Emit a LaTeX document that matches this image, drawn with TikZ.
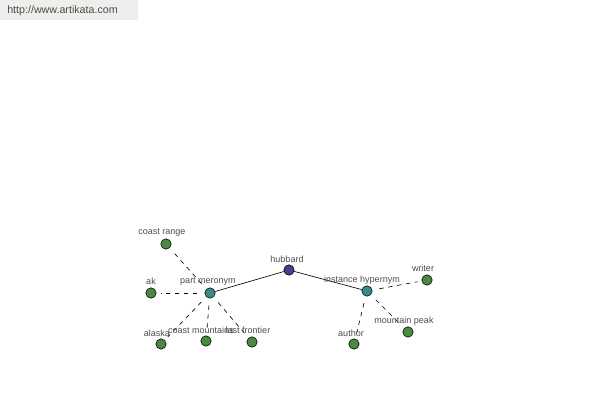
\documentclass[tikz,border=0pt]{standalone}
\usepackage{fontspec}
\setmainfont{Liberation Sans}
\definecolor{leafgreen}{RGB}{74,138,64}
\definecolor{hubteal}{RGB}{58,138,136}
\definecolor{rootblue}{RGB}{64,64,144}
\definecolor{wmgray}{RGB}{238,238,238}
\definecolor{wmtext}{RGB}{70,80,60}
\tikzset{
  dot/.style={circle,draw=black,line width=0.4pt,minimum size=0.26cm,inner sep=0pt},
  leaf/.style={dot,fill=leafgreen},
  hub/.style={dot,fill=hubteal},
  root/.style={dot,fill=rootblue},
  lbl/.style={font=\fontsize{6.4}{7}\selectfont,text=black!70,inner sep=0pt},
  rel/.style={line width=0.45pt},
  link/.style={line width=0.45pt,dash pattern=on 3.2pt off 3.2pt,shorten <=5pt,shorten >=3pt}
}
\begin{document}
\begin{tikzpicture}[x=0.025cm,y=-0.025cm]
            \useasboundingbox (0,0) rectangle (600,400);
            \fill[wmgray] (0,0) rectangle (138,20);
            \node[anchor=west,font=\fontsize{7.6}{9}\selectfont,text=wmtext,inner sep=0pt] (site) at (7,11) {http://www.artikata.com};

            % centre and the two relations
            \node[root] (hubbard) at (289,270) {};
            \node[hub]  (meronym) at (210,293) {};
            \node[hub]  (hypernym) at (367,291) {};

            % part meronym side
            \node[leaf] (coastrange) at (166,244) {};
            \node[leaf] (ak)         at (151,293) {};
            \node[leaf] (alaska)     at (161,344) {};
            \node[leaf] (coastmtn)   at (206,341) {};
            \node[leaf] (frontier)   at (252,342) {};

            % instance hypernym side
            \node[leaf] (author)   at (354,344) {};
            \node[leaf] (peak)     at (408,332) {};
            \node[leaf] (writer)   at (427,280) {};

            \draw[rel] (hubbard) -- (meronym);
            \draw[rel] (hubbard) -- (hypernym);

            \draw[link] (meronym) -- (coastrange);
            \draw[link] (meronym) -- (ak);
            \draw[link] (meronym) -- (alaska);
            \draw[link] (meronym) -- (coastmtn);
            \draw[link] (meronym) -- (frontier);

            \draw[link] (hypernym) -- (author);
            \draw[link] (hypernym) -- (peak);
            \draw[link] (hypernym) -- (writer);

            % labels
            \node[lbl] (t-hubbard)  at (287,259) {hubbard};
            \node[lbl] (t-meronym)  at (208,282) {part meronym};
            \node[lbl] (t-hypernym) at (362,280) {instance hypernym};
            \node[lbl] (t-coastrange) at (162,233) {coast range};
            \node[lbl] (t-ak)       at (151,281) {ak};
            \node[lbl] (t-alaska)   at (157,333) {alaska};
            \node[lbl] (t-coastmtn) at (201,330) {coast mountains};
            \node[lbl] (t-frontier) at (248,330) {last frontier};
            \node[lbl] (t-author)   at (351,333) {author};
            \node[lbl] (t-peak)     at (404,321) {mountain peak};
            \node[lbl] (t-writer)   at (423,268) {writer};
        \end{tikzpicture}
\end{document}
